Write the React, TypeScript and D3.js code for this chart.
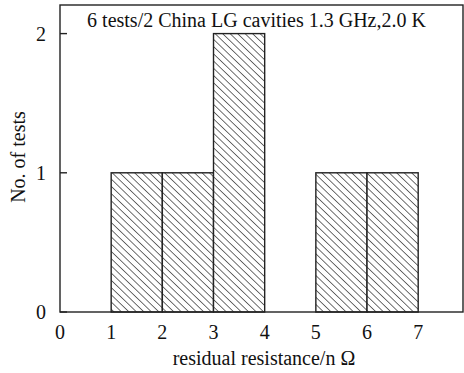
import React from "react";
import * as d3 from "d3";

const binStarts = [1, 2, 3, 5, 6];
const binEnds = [2, 3, 4, 6, 7];
const counts = [1, 1, 2, 1, 1];
const xTicks = [0, 1, 2, 3, 4, 5, 6, 7];
const yTicks = [0, 1, 2];
const title = "6 tests/2 China LG cavities 1.3 GHz,2.0 K";
const xLabel = "residual resistance/n Ω";
const yLabel = "No. of tests";

const W = 464, H = 373;
const left = 60, right = 463, top = 5, bottom = 312;

export default function App() {
  const x = d3.scaleLinear().domain([0, (right - left) / 51.17]).range([left, right]);
  const y = d3.scaleLinear().domain([0, (bottom - top) / 139.2]).range([bottom, top]);
  const font = "'Liberation Serif', 'Times New Roman', serif";
  const stroke = "#222";
  const sp = 5.2;
  return (
    <svg width={W} height={H} style={{ position: "absolute", left: 0, top: 0, background: "#fff" }}
      fontFamily={font}>
      <defs>
        <pattern id="hatch" patternUnits="userSpaceOnUse" width={sp} height={sp}
          patternTransform="rotate(-46)">
          <rect width={sp} height={sp} fill="#fff" />
          <line x1={0} y1={0} x2={0} y2={sp} stroke="#111" strokeWidth={1.2} />
        </pattern>
      </defs>
      <rect x={0} y={0} width={W} height={H} fill="#fff" />
      {counts.map((c, i) => (
        <rect key={i} x={x(binStarts[i])} y={y(c)} width={x(binEnds[i]) - x(binStarts[i])}
          height={y(0) - y(c)} fill="url(#hatch)" stroke={stroke} strokeWidth={1.4} />
      ))}
      <rect x={left} y={top} width={right - left} height={bottom - top} fill="none" stroke={stroke} strokeWidth={1.4} />
      {yTicks.map((t) => (
        <g key={t}>
          <line x1={left} x2={left + 7} y1={y(t)} y2={y(t)} stroke={stroke} strokeWidth={1.4} />
          <text x={46} y={y(t) + 7} textAnchor="end" fontSize={20} fill="#111">{t}</text>
        </g>
      ))}
      {xTicks.map((t) => (
        <text key={t} x={x(t)} y={339} textAnchor="middle" fontSize={20} fill="#111">{t}</text>
      ))}
      <text x={256.5} y={27} textAnchor="middle" fontSize={20} fill="#111">{title}</text>
      <text x={264} y={365} textAnchor="middle" fontSize={20} fill="#111">{xLabel}</text>
      <text transform={`translate(25,${157}) rotate(-90)`} textAnchor="middle" fontSize={20} fill="#111">{yLabel}</text>
    </svg>
  );
}
